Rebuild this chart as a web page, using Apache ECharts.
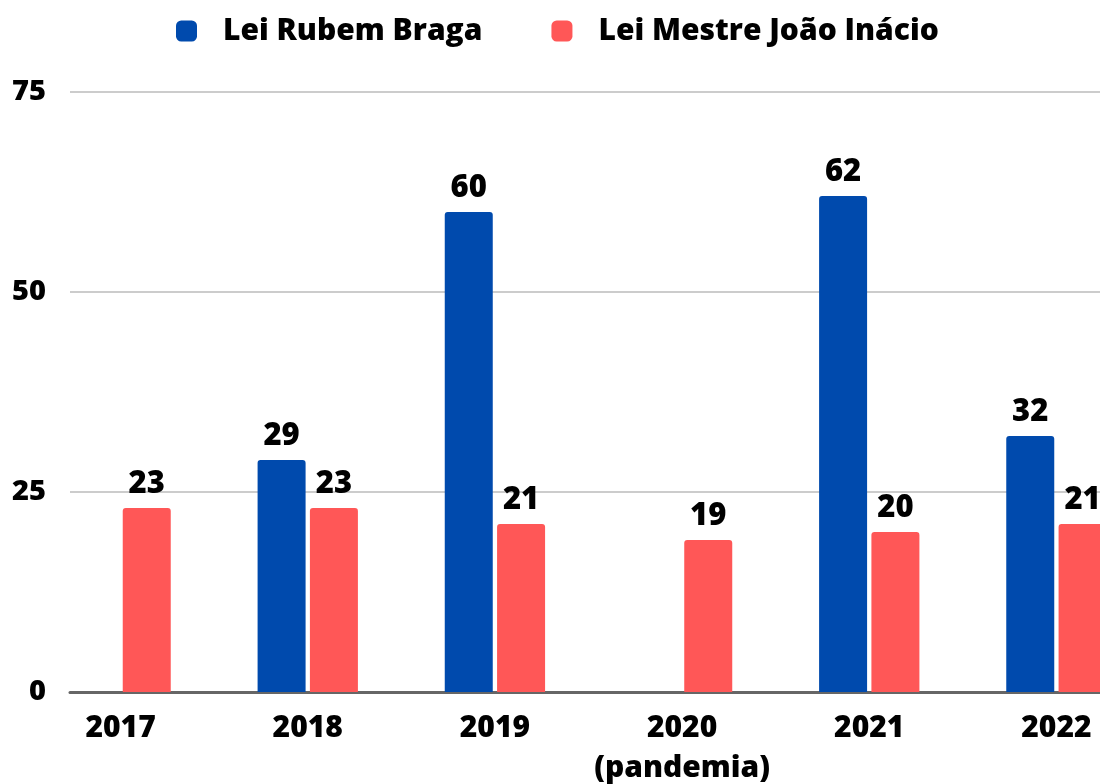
<!DOCTYPE html>
<html>
<head>
<meta charset="utf-8">
<script src="https://cdn.jsdelivr.net/npm/echarts@6/dist/echarts.min.js"></script>
<style>
html,body{margin:0;padding:0;background:#fff;}
#chart{width:1100px;height:784px;}
</style>
</head>
<body>
<div id="chart"></div>
<script>
//数据
var anos = ['2017', '2018', '2019', '2020\n(pandemia)', '2021', '2022'];
var rubemBraga = [null, 29, 60, null, 62, 32];
var mestreJoao = [23, 23, 21, 19, 20, 21];
var yTicks = [0, 25, 50, 75];

var fonte = '"Open Sans", "DejaVu Sans", sans-serif';
var chart = echarts.init(document.getElementById('chart'));

var rotulo = {
    show: true,
    position: 'top',
    distance: 8,
    color: '#000',
    fontFamily: fonte,
    fontWeight: 800,
    fontSize: 31
};

var option = {
    backgroundColor: '#fff',
    animation: false,
    legend: {
        left: 171,
        top: 11,
        itemWidth: 21,
        itemHeight: 21,
        itemGap: 69,
        icon: 'roundRect',
        textStyle: {
            color: '#000',
            fontFamily: fonte,
            fontWeight: 800,
            fontSize: 30,
            padding: [0, 0, 0, 21]
        },
        data: ['Lei Rubem Braga', 'Lei Mestre João Inácio']
    },
    grid: [
        //barras (passa da borda direita, como no original)
        {left: 27, width: 1123, top: 92, bottom: 92, outerBoundsMode: 'none', containLabel: false},
        //eixos e linhas
        {left: 70, right: 0, top: 92, bottom: 92, outerBoundsMode: 'none'}
    ],
    xAxis: [{
        gridIndex: 0,
        type: 'category',
        data: anos,
        axisLine: {show: false},
        axisTick: {show: false},
        axisLabel: {
            interval: 0,
            margin: 16,
            color: '#000',
            fontFamily: fonte,
            fontWeight: 800,
            fontSize: 30,
            lineHeight: 40
        }
    }, {
        gridIndex: 1,
        type: 'category',
        data: [],
        axisLine: {lineStyle: {color: '#666', width: 3}},
        axisTick: {show: false},
        axisLabel: {show: false}
    }],
    yAxis: [{
        gridIndex: 0,
        type: 'value',
        min: yTicks[0],
        max: yTicks[yTicks.length - 1],
        interval: 25,
        show: false
    }, {
        gridIndex: 1,
        type: 'value',
        min: yTicks[0],
        max: yTicks[yTicks.length - 1],
        interval: 25,
        axisLine: {show: false},
        axisTick: {show: false},
        axisLabel: {
            margin: 24,
            color: '#000',
            fontFamily: fonte,
            fontWeight: 800,
            fontSize: 29
        },
        splitLine: {lineStyle: {color: '#cccccc', width: 2}}
    }],
    series: [{
        name: 'Lei Rubem Braga',
        type: 'bar',
        xAxisIndex: 0,
        yAxisIndex: 0,
        barWidth: 48,
        barGap: '9%',
        data: rubemBraga,
        itemStyle: {color: '#004AAD', borderRadius: [3, 3, 0, 0]},
        label: rotulo
    }, {
        name: 'Lei Mestre João Inácio',
        type: 'bar',
        xAxisIndex: 0,
        yAxisIndex: 0,
        barWidth: 48,
        barGap: '9%',
        data: mestreJoao,
        itemStyle: {color: '#FF5757', borderRadius: [3, 3, 0, 0]},
        label: rotulo
    }]
};
chart.setOption(option);
</script>
</body>
</html>
